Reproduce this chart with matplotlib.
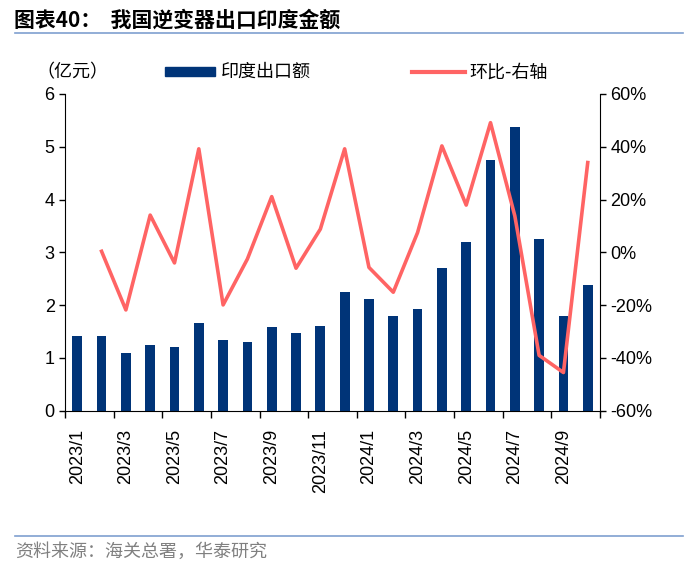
import matplotlib
matplotlib.use("Agg")
import matplotlib.pyplot as plt
import numpy as np
from matplotlib.lines import Line2D
from matplotlib.patches import Rectangle

plt.rcParams['font.family'] = ['Liberation Sans', 'Noto Sans CJK SC', 'DejaVu Sans']

months = ['2023/1', '2023/2', '2023/3', '2023/4', '2023/5', '2023/6', '2023/7', '2023/8',
          '2023/9', '2023/10', '2023/11', '2023/12', '2024/1', '2024/2', '2024/3', '2024/4',
          '2024/5', '2024/6', '2024/7', '2024/8', '2024/9', '2024/10']
export_india = [1.41, 1.41, 1.10, 1.25, 1.21, 1.67, 1.34, 1.30, 1.58, 1.48, 1.61, 2.25,
                2.12, 1.80, 1.93, 2.70, 3.19, 4.74, 5.38, 3.26, 1.79, 2.38]
mom = [np.nan, 0.4, -21.8, 14.1, -4.0, 39.2, -19.9, -2.5, 21.1, -6.0, 8.8, 39.2,
       -5.7, -15.1, 7.5, 40.3, 17.9, 49.1, 13.8, -39.0, -45.5, 34.0]

bar_color = '#003478'
line_color = '#FF6464'

fig = plt.figure(figsize=(7, 5.69), dpi=100)
ax = fig.add_axes([0.093, 0.278, 0.764, 0.557])
x = np.arange(len(months))
ax.bar(x, export_india, width=0.4, color=bar_color, zorder=2)
ax.set_xlim(-0.5, len(months) - 0.5)
ax.set_ylim(0, 6)
ax.set_yticks(range(0, 7))
ax.set_xticks(x[::2])
ax.set_xticklabels(months[::2], rotation=90)
ax.set_xticks(np.arange(-0.5, len(months), 2), minor=True)
ax.tick_params(axis='x', which='major', length=0, pad=13, labelsize=13)
ax.tick_params(axis='x', which='minor', length=5, width=1)
ax.tick_params(axis='y', labelsize=13, length=4, width=1)
for s in ['top', 'right']:
    ax.spines[s].set_visible(False)

ax2 = ax.twinx()
ax2.plot(x, mom, color=line_color, lw=2.6, zorder=3)
ax2.set_ylim(-60, 60)
ax2.set_yticks(range(-60, 61, 20))
ax2.set_yticklabels([f'{v}%' for v in range(-60, 61, 20)])
ax2.tick_params(axis='y', labelsize=13, length=4, width=1)
for s in ['top', 'left', 'bottom']:
    ax2.spines[s].set_visible(False)

cjk = ['Noto Sans CJK SC', 'DejaVu Sans']
fig.text(0.02, 0.965, '图表40：  我国逆变器出口印度金额', fontsize=15, fontweight='bold',
         family=cjk, va='center')
fig.add_artist(Line2D([0.022, 0.975], [0.942, 0.942], color='#7F9FCF', lw=1.2))
fig.add_artist(Line2D([0.022, 0.975], [0.058, 0.058], color='#7F9FCF', lw=1.2))
fig.text(0.022, 0.03, '资料来源：海关总署，华泰研究', fontsize=13, color='#808080',
         family=cjk, va='center')

fig.text(0.052, 0.873, '（亿元）', fontsize=13, family=cjk, va='center')
fig.add_artist(Rectangle((0.236, 0.866), 0.071, 0.016, color=bar_color))
fig.text(0.316, 0.873, '印度出口额', fontsize=13, family=cjk, va='center')
fig.add_artist(Line2D([0.589, 0.664], [0.874, 0.874], color=line_color, lw=3))
fig.text(0.670, 0.873, '环比-右轴', fontsize=13, family=cjk, va='center')

fig.savefig('out.png', dpi=100)
